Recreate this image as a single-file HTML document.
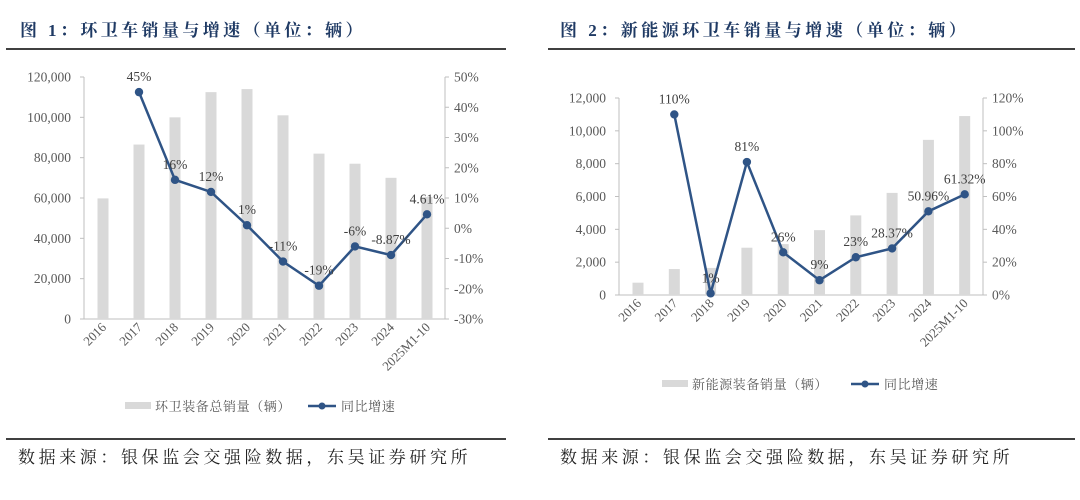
<!DOCTYPE html>
<html><head><meta charset="utf-8"><style>
body{margin:0;width:1080px;height:495px;background:#fff;overflow:hidden;font-family:"Liberation Serif","Noto Serif CJK SC",serif}
svg text{font-family:"Liberation Serif","Noto Serif CJK SC",serif}
</style></head><body>
<svg id="s" width="1080" height="495">
<text x="20" y="36" font-size="17" font-weight="bold" fill="#1f3a64" letter-spacing="3.4">图 1：环卫车销量与增速（单位：辆）</text>
<line x1="6" y1="49" x2="506" y2="49" stroke="#000" stroke-width="1.5"/>
<text x="560" y="36" font-size="17" font-weight="bold" fill="#1f3a64" letter-spacing="3.5">图 2：新能源环卫车销量与增速（单位：辆）</text>
<line x1="548" y1="49" x2="1075" y2="49" stroke="#000" stroke-width="1.5"/>
<line x1="6" y1="439" x2="506" y2="439" stroke="#000" stroke-width="1.5"/>
<text x="18" y="463" font-size="17" fill="#222" letter-spacing="3.6">数据来源：银保监会交强险数据，东吴证券研究所</text>
<line x1="548" y1="439" x2="1075" y2="439" stroke="#000" stroke-width="1.5"/>
<text x="560" y="463" font-size="17" fill="#222" letter-spacing="3.6">数据来源：银保监会交强险数据，东吴证券研究所</text>
<g id="c1"></g>
<g id="c2"></g>
</svg>
<script>
const categories=["2016","2017","2018","2019","2020","2021","2022","2023","2024","2025M1-10"];
const sales1=[59800,86500,100000,112500,114000,101000,82000,77000,70000,60500];
const growth1=[null,45,16,12,1,-11,-19,-6,-8.87,4.61];
const growthLabels1=["","45%","16%","12%","1%","-11%","-19%","-6%","-8.87%","4.61%"];
const leftTicks1=[0,20000,40000,60000,80000,100000,120000];
const rightTicks1=[-30,-20,-10,0,10,20,30,40,50];
const sales2=[750,1580,1650,2880,3100,3950,4850,6220,9450,10900];
const growth2=[null,110,1,81,26,9,23,28.37,50.96,61.32];
const growthLabels2=["","110%","1%","81%","26%","9%","23%","28.37%","50.96%","61.32%"];
const leftTicks2=[0,2000,4000,6000,8000,10000,12000];
const rightTicks2=[0,20,40,60,80,100,120];
const NS="http://www.w3.org/2000/svg";
function mk(p,t,a,txt){const e=document.createElementNS(NS,t);for(const k in a)e.setAttribute(k,a[k]);if(txt!=null)e.textContent=txt;p.appendChild(e);return e;}
function fmt(v){return v.toLocaleString("en-US");}
function draw(g,cfg){
  const {x0,x1,yT,yB,c0,step,lmax,rmin,rmax,sales,growth,labels,lt,rt,barLabel,legY,legX1,legX2}=cfg;
  const yL=v=>yB-(v/lmax)*(yB-yT);
  const yR=v=>yB-(v-rmin)/(rmax-rmin)*(yB-yT);
  const xC=i=>c0+i*step;
  let e;
  e=mk(g,"line",{x1:x0,y1:yT,x2:x0,y2:yB,stroke:"#bfbfbf"});
  e=mk(g,"line",{x1:x1,y1:yT,x2:x1,y2:yB,stroke:"#bfbfbf"});
  e=mk(g,"line",{x1:x0,y1:yB,x2:x1,y2:yB,stroke:"#bfbfbf"});
  lt.forEach(v=>{mk(g,"line",{x1:x0-4,y1:yL(v),x2:x0,y2:yL(v),stroke:"#bfbfbf"});
    e=mk(g,"text",{x:x0-13,y:yL(v)+4.5,"font-size":13.5,fill:"#595959","text-anchor":"end"},fmt(v));});
  rt.forEach(v=>{mk(g,"line",{x1:x1,y1:yR(v),x2:x1+4,y2:yR(v),stroke:"#bfbfbf"});
    e=mk(g,"text",{x:x1+9,y:yR(v)+4.5,"font-size":13.5,fill:"#595959"},v+"%");});
  sales.forEach((v,i)=>{e=mk(g,"rect",{x:xC(i)-5.5,y:yL(v),width:11,height:yB-yL(v),fill:"#d9d9d9"});});
  categories.forEach((c,i)=>{const x=xC(i)+4,y=yB+9;
    e=mk(g,"text",{x:x,y:y,"font-size":13,fill:"#595959","text-anchor":"end",transform:`rotate(-45 ${x} ${y})`},c);});
  let pts=[];growth.forEach((v,i)=>{if(v!=null)pts.push(xC(i)+","+yR(v));});
  e=mk(g,"polyline",{points:pts.join(" "),fill:"none",stroke:"#2f5486","stroke-width":2.5});
  growth.forEach((v,i)=>{if(v==null)return;
    e=mk(g,"circle",{cx:xC(i),cy:yR(v),r:4.2,fill:"#2f5486"});
    e=mk(g,"text",{x:xC(i),y:yR(v)-11,"font-size":13.5,fill:"#404040","text-anchor":"middle"},labels[i]);});
  e=mk(g,"rect",{x:legX1,y:legY-4,width:26,height:7,fill:"#d9d9d9"});
  e=mk(g,"text",{x:legX1+30,y:legY+5,"font-size":13,fill:"#595959","letter-spacing":0.6},barLabel);
  e=mk(g,"line",{x1:legX2,y1:legY,x2:legX2+28,y2:legY,stroke:"#2f5486","stroke-width":2.5});
  mk(g,"circle",{cx:legX2+14,cy:legY,r:3.5,fill:"#2f5486"});
  e=mk(g,"text",{x:legX2+33,y:legY+5,"font-size":13,fill:"#595959","letter-spacing":0.6},"同比增速");
}
draw(document.getElementById("c1"),{x0:84,x1:445,yT:77,yB:319,c0:103,step:36,lmax:120000,rmin:-30,rmax:50,sales:sales1,growth:growth1,labels:growthLabels1,lt:leftTicks1,rt:rightTicks1,barLabel:"环卫装备总销量（辆）",legY:406,legX1:125,legX2:308});
draw(document.getElementById("c2"),{x0:619,x1:983,yT:98,yB:295,c0:638,step:36.3,lmax:12000,rmin:0,rmax:120,sales:sales2,growth:growth2,labels:growthLabels2,lt:leftTicks2,rt:rightTicks2,barLabel:"新能源装备销量（辆）",legY:384,legX1:662,legX2:851});
</script>
</body></html>
